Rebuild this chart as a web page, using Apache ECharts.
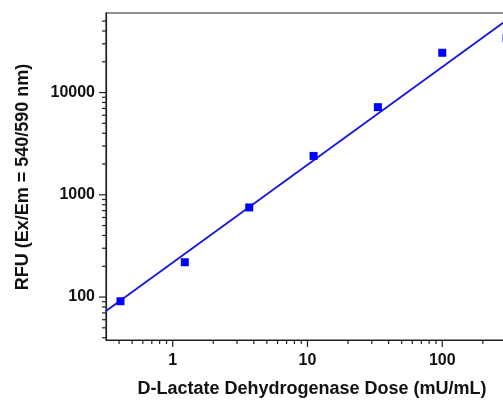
<!DOCTYPE html>
<html><head><meta charset="utf-8">
<script src="https://cdn.jsdelivr.net/npm/echarts@6/dist/echarts.min.js"></script>
<style>html,body{margin:0;padding:0;background:#fff}#c{width:503px;height:401px}</style>
</head><body><div id="c"></div>
<script>
// Data
var doseX = [0.41, 1.23, 3.7, 11.1, 33.3, 100, 300];
var rfuY  = [91, 219, 752, 2400, 7200, 24500, 34000];
// Fitted line endpoints
var fitX = [0.32, 300];
var fitY = [73, 51000];
// Axis tick values
var xMajorTicks = [1, 10, 100, 1000];
var xMinorTicks = [0.4,0.5,0.6,0.7,0.8,0.9,2,3,4,5,6,7,8,9,20,30,40,50,60,70,80,90,200,300,400,500,600,700,800,900];
var yMajorTicks = [100, 1000, 10000];
var yMinorTicks = [40,50,60,70,80,90,200,300,400,500,600,700,800,900,2000,3000,4000,5000,6000,7000,8000,9000,20000,30000,40000,50000];
var xMin = 0.32, xMax = 1000, yMin = 38, yMax = 60000;

var FONT = '"Liberation Sans", Arial, sans-serif';
var chart = echarts.init(document.getElementById('c'));

function xTickData(){
  var d = [];
  xMajorTicks.forEach(function(v){ d.push([v, yMin, 7]); });
  xMinorTicks.forEach(function(v){ d.push([v, yMin, 4]); });
  return d;
}
function yTickData(){
  var d = [];
  yMajorTicks.forEach(function(v){ d.push([xMin, v, 7]); });
  yMinorTicks.forEach(function(v){ d.push([xMin, v, 4]); });
  return d;
}

chart.setOption({
  animation: false,
  grid: { left: 106, top: 13, height: 327, width: 471, outerBoundsMode: 'none', show: true, borderColor: '#222', borderWidth: 1.2, containLabel: false },
  xAxis: {
    type: 'log', logBase: 10, min: xMin, max: xMax,
    axisLine: { lineStyle: { color: '#222', width: 1.2 } },
    axisTick: { show: false },
    splitLine: { show: false },
    axisLabel: {
      showMinLabel: false, showMaxLabel: false, margin: 13,
      color: '#111', fontSize: 16, fontWeight: 'bold', fontFamily: FONT,
      formatter: function(v){ return String(Math.round(v)); }
    }
  },
  yAxis: {
    type: 'log', logBase: 10, min: yMin, max: yMax,
    axisLine: { lineStyle: { color: '#222', width: 1.2 } },
    axisTick: { show: false },
    splitLine: { show: false },
    axisLabel: {
      showMinLabel: false, showMaxLabel: false, margin: 11,
      color: '#111', fontSize: 16, fontWeight: 'bold', fontFamily: FONT,
      formatter: function(v){ return String(Math.round(v)); }
    }
  },
  graphic: [
    { type: 'text', x: 312, y: 389, style: { text: 'D-Lactate Dehydrogenase Dose (mU/mL)', font: 'bold 18px ' + FONT, fill: '#111', textAlign: 'center', textVerticalAlign: 'middle' } },
    { type: 'text', x: 23, y: 177, rotation: Math.PI/2, style: { text: 'RFU (Ex/Em = 540/590 nm)', font: 'bold 18px ' + FONT, fill: '#111', textAlign: 'center', textVerticalAlign: 'middle' } }
  ],
  series: [
    {
      type: 'line', data: fitX.map(function(x,i){ return [x, fitY[i]]; }),
      showSymbol: false, symbol: 'none', lineStyle: { color: '#1515e0', width: 1.8 }, clip: true, silent: true, z: 2
    },
    {
      type: 'scatter', data: doseX.map(function(x,i){ return [x, rfuY[i]]; }),
      symbol: 'rect', symbolSize: 8, itemStyle: { color: '#0000ff', opacity: 1 }, z: 3, clip: false
    },
    {
      type: 'custom', clip: false, silent: true, data: xTickData(), encode: { x: 0, y: 1 },
      renderItem: function(params, api){
        var p = api.coord([api.value(0), api.value(1)]);
        var len = api.value(2);
        return { type: 'line', shape: { x1: p[0], y1: p[1], x2: p[0], y2: p[1] + len }, style: { stroke: '#222', lineWidth: 1.2 } };
      }
    },
    {
      type: 'custom', clip: false, silent: true, data: yTickData(), encode: { x: 0, y: 1 },
      renderItem: function(params, api){
        var p = api.coord([api.value(0), api.value(1)]);
        var len = api.value(2);
        return { type: 'line', shape: { x1: p[0] - len, y1: p[1], x2: p[0], y2: p[1] }, style: { stroke: '#222', lineWidth: 1.2 } };
      }
    }
  ]
});
</script></body></html>
